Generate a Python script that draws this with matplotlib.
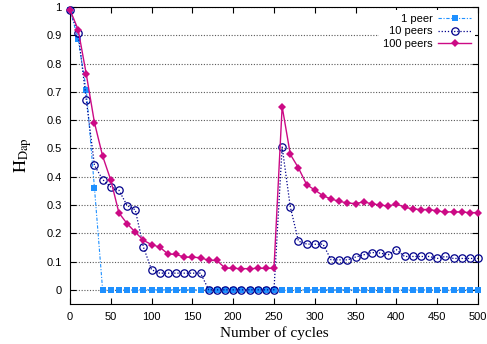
#H_Dap over cycles for 1, 10 and 100 peers
#install lib: matplotlib

import matplotlib.pyplot as plt

plt.rcParams["font.family"] = "Liberation Sans"
plt.rcParams["mathtext.fontset"] = "stix"

cycles = [0, 10, 20, 30, 40, 50, 60, 70, 80, 90, 100,
          110, 120, 130, 140, 150, 160, 170, 180, 190, 200,
          210, 220, 230, 240, 250, 260, 270, 280, 290, 300,
          310, 320, 330, 340, 350, 360, 370, 380, 390, 400,
          410, 420, 430, 440, 450, 460, 470, 480, 490, 500]

peer1 = [0.99, 0.887, 0.707, 0.36, 0, 0, 0, 0, 0, 0, 0,
         0, 0, 0, 0, 0, 0, 0, 0, 0, 0,
         0, 0, 0, 0, 0, 0, 0, 0, 0, 0,
         0, 0, 0, 0, 0, 0, 0, 0, 0, 0,
         0, 0, 0, 0, 0, 0, 0, 0, 0, 0]

peers10 = [0.99, 0.907, 0.671, 0.44, 0.39, 0.364, 0.352, 0.298, 0.283, 0.151, 0.071,
           0.059, 0.059, 0.059, 0.059, 0.059, 0.059, 0, 0, 0, 0,
           0, 0, 0, 0, 0, 0.505, 0.293, 0.172, 0.162, 0.161,
           0.162, 0.106, 0.106, 0.106, 0.116, 0.124, 0.132, 0.130, 0.124, 0.142,
           0.118, 0.118, 0.118, 0.118, 0.111, 0.118, 0.111, 0.111, 0.111, 0.111]

peers100 = [0.99, 0.92, 0.762, 0.591, 0.473, 0.388, 0.272, 0.234, 0.204, 0.175, 0.16,
            0.151, 0.127, 0.125, 0.116, 0.115, 0.114, 0.104, 0.104, 0.077, 0.076,
            0.075, 0.075, 0.076, 0.076, 0.076, 0.648, 0.479, 0.431, 0.372, 0.353,
            0.333, 0.321, 0.313, 0.307, 0.305, 0.311, 0.304, 0.300, 0.296, 0.304,
            0.292, 0.286, 0.284, 0.284, 0.279, 0.275, 0.276, 0.275, 0.273, 0.273]

fig = plt.figure(figsize=(4.87, 3.44), dpi=100)
ax = fig.add_axes([0.1437, 0.1163, 0.8378, 0.8634])

ax.plot(cycles, peer1, color="#1e90ff", linestyle=(0, (3, 1.5, 1, 1.5)), linewidth=0.8,
        marker="s", markersize=4.6, markeredgewidth=0, label="1 peer", clip_on=False, zorder=3)
ax.plot(cycles, peers10, color="#00008b", linestyle=(0, (1, 1.5)), linewidth=0.9,
        marker="o", markersize=5.3, markerfacecolor="none", markeredgewidth=0.9,
        label="10 peers", clip_on=False, zorder=4)
ax.plot(cycles, peers100, color="#cc0a85", linestyle="-", linewidth=1,
        marker="D", markersize=3.8, markeredgewidth=0, label="100 peers", clip_on=False, zorder=5)

ax.set_xlim(0, 500)
ax.set_ylim(-0.05, 1)
ax.set_xticks([0, 50, 100, 150, 200, 250, 300, 350, 400, 450, 500])
ax.set_yticks([0, 0.1, 0.2, 0.3, 0.4, 0.5, 0.6, 0.7, 0.8, 0.9, 1])
ax.set_yticklabels(["0", "0.1", "0.2", "0.3", "0.4", "0.5", "0.6", "0.7", "0.8", "0.9", "1"])
ax.tick_params(direction="in", top=True, right=True, length=4, labelsize=8, pad=6)
ax.grid(axis="y", color="0.35", linestyle=(0, (1, 1.5)), linewidth=0.8)
ax.set_axisbelow(True)

ax.set_xlabel("Number of cycles", family="Liberation Serif", fontsize=11, labelpad=3)
ax.set_ylabel(r"$\mathrm{H}_{\mathrm{Dap}}$", fontsize=13, labelpad=9)

leg = ax.legend(loc="upper right", markerfirst=False, fontsize=8, frameon=True,
                handlelength=3, labelspacing=0.25, borderaxespad=0.3, borderpad=0.3,
                handletextpad=0.5)
leg.get_frame().set_edgecolor("none")
leg.get_frame().set_facecolor("white")
leg.get_frame().set_alpha(1)

plt.savefig("out.png")
